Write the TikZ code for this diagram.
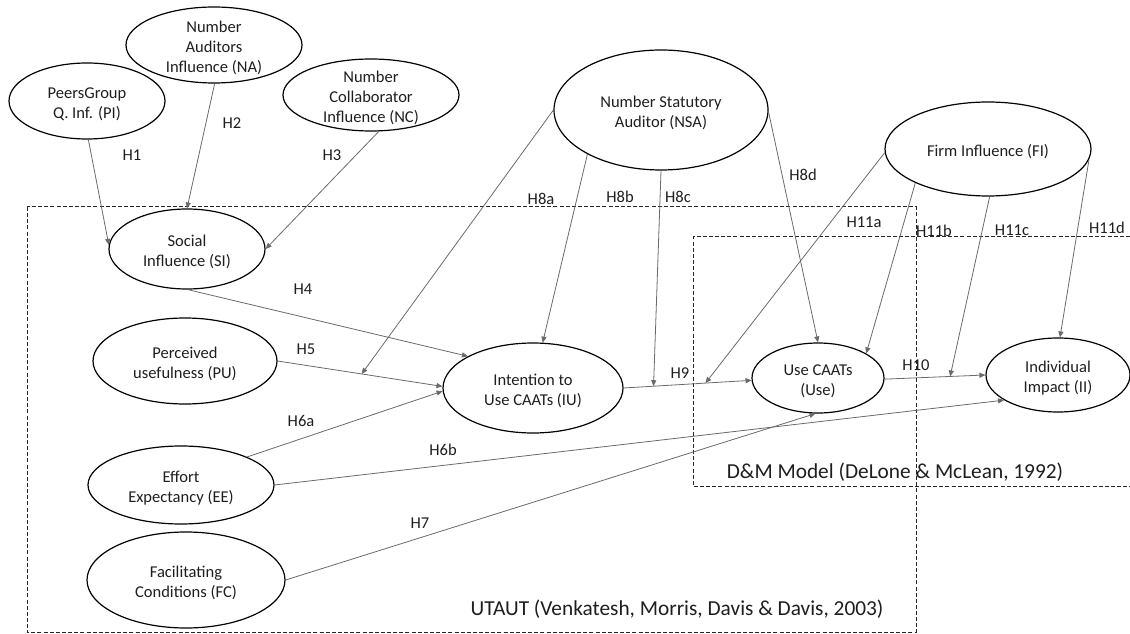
\documentclass[tikz,border=0pt]{standalone}
\usepackage{fontspec}
\setmainfont{Carlito}
\usetikzlibrary{shapes.geometric,arrows.meta,calc}
\definecolor{txtgray}{HTML}{1E1E1E}
\definecolor{linegray}{HTML}{6A6A6A}
\newcommand{\ctfont}{\fontsize{12.4}{14.8}\selectfont}
\newcommand{\bigfont}{\fontsize{16}{19}\selectfont}
\begin{document}
\begin{tikzpicture}[x=0.75pt,y=-0.75pt,
  construct/.style={draw=black, line width=0.9pt, ellipse, inner sep=0pt},
  ell/.style 2 args={minimum width=#1*1.5pt, minimum height=#2*1.5pt},
  ctext/.style={font=\ctfont, text=txtgray, align=center, inner sep=0pt, yshift=-2.2pt},
  hyp/.style={draw=linegray, line width=0.6pt, -{Triangle[length=4.5pt,width=3.8pt]}},
  hlabel/.style={font=\ctfont, text=txtgray, inner sep=0pt},
  frame/.style={draw=black!85, line width=0.75pt, dash pattern=on 3pt off 1.6pt},
  modelname/.style={font=\bigfont, text=txtgray, inner sep=0pt}]
\useasboundingbox (0,0) rectangle (1130,634);

% model frames
\draw[frame] (27,207) rectangle (916,632);
\draw[frame] (1130,237) -- (693,237) -- (693,486) -- (1130,486);
\node[modelname] (utaut) at (677,609) {UTAUT (Venkatesh, Morris, Davis \& Davis, 2003)};
\node[modelname] (dm) at (895,472) {D\&M Model (DeLone \& McLean, 1992)};

% constructs
\node[construct, ell={78}{38}, label={[ctext]center:PeersGroup\\Q. Inf. (PI)}] (PI) at (87,101) {};
\node[construct, ell={88}{38}, label={[ctext]center:Number\\Auditors\\Influence (NA)}] (NA) at (214,45) {};
\node[construct, ell={88}{36}, label={[ctext]center:Number\\Collaborator\\Influence (NC)}] (NC) at (371,95) {};
\node[construct, ell={107}{60}, label={[ctext]center:Number Statutory\\Auditor (NSA)}] (NSA) at (661,110) {};
\node[construct, ell={103}{47}, label={[ctext]center:Firm Influence (FI)}] (FI) at (988,149) {};
\node[construct, ell={78}{40}, label={[ctext]center:Social\\Influence (SI)}] (SI) at (187,249) {};
\node[construct, ell={92}{43}, label={[ctext]center:Perceived\\usefulness (PU)}] (PU) at (185,361) {};
\node[construct, ell={93}{39}, label={[ctext]center:Effort\\Expectancy (EE)}] (EE) at (181,485) {};
\node[construct, ell={99}{48}, label={[ctext]center:Facilitating\\Conditions (FC)}] (FC) at (186,580) {};
\node[construct, ell={90}{45}, label={[ctext]center:Intention to\\Use CAATs (IU)}] (IU) at (533,388) {};
\node[construct, ell={66}{35}, label={[ctext]center:Use CAATs\\(Use)}] (Use) at (818,378) {};
\node[construct, ell={72}{37}, label={[ctext]center:Individual\\Impact (II)}] (II) at (1058,375) {};

% main paths
\draw[hyp] (PI.-88) -- (SI.177);
\draw[hyp] (NA.-89) -- (SI.90);
\draw[hyp] (NC.-78) -- (SI.0);
\draw[hyp] (SI.-89) -- (IU.154);
\draw[hyp] (PU.0) -- (IU.179);
\draw[hyp] (EE.23) -- (IU.182);
\draw[hyp] (EE.0) -- (II.205);
\draw[hyp] (FC.0) -- (Use.-94);
\draw[hyp] (IU.0) -- (Use.182);
\draw[hyp] (Use.-1) -- (II.180);
\draw[hyp] (NSA.211) -- (IU.78);
\draw[hyp] (NSA.-1) -- (Use.90);
\draw[hyp] (FI.205) -- (Use.27);
\draw[hyp] (FI.-6) -- (II.87);

% moderating paths ending on other paths
\coordinate (m8a) at ($(PU.0)!0.51!(IU.179)$);
\coordinate (m8c) at ($(IU.0)!0.234!(Use.182)$);
\coordinate (m11a) at ($(IU.0)!0.64!(Use.182)$);
\coordinate (m11c) at ($(Use.-1)!0.65!(II.180)$);
\draw[hyp] (NSA.180) -- (m8a);
\draw[hyp] (NSA.-90) -- (m8c);
\draw[hyp] (FI.182) -- (m11a);
\draw[hyp] (FI.-88) -- (m11c);

% hypothesis labels
\node[hlabel] (lH1) at (132,155) {H1};
\node[hlabel] (lH2) at (232,123) {H2};
\node[hlabel] (lH3) at (332,155) {H3};
\node[hlabel] (lH4) at (303,289) {H4};
\node[hlabel] (lH5) at (306,349) {H5};
\node[hlabel] (lH6a) at (301,421) {H6a};
\node[hlabel] (lH6b) at (443,450) {H6b};
\node[hlabel] (lH7) at (420,523) {H7};
\node[hlabel] (lH8a) at (541,199) {H8a};
\node[hlabel] (lH8b) at (620,197) {H8b};
\node[hlabel] (lH8c) at (678,197) {H8c};
\node[hlabel] (lH8d) at (803,175) {H8d};
\node[hlabel] (lH9) at (680,373) {H9};
\node[hlabel] (lH10) at (916,365) {H10};
\node[hlabel] (lH11a) at (864,222) {H11a};
\node[hlabel] (lH11b) at (934,231) {H11b};
\node[hlabel] (lH11c) at (1012,230) {H11c};
\node[hlabel] (lH11d) at (1107,228) {H11d};
\end{tikzpicture}
\end{document}
